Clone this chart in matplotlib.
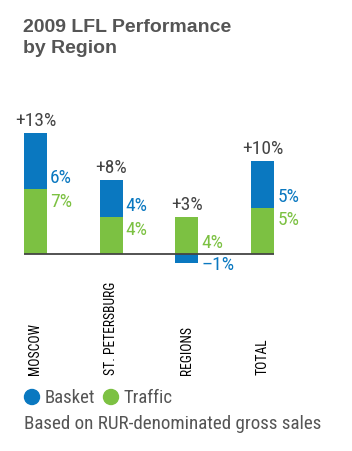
import matplotlib
matplotlib.use('Agg')
import matplotlib.pyplot as plt
from matplotlib.patches import Ellipse
import numpy as np

regions = ['MOSCOW', 'ST. PETERSBURG', 'REGIONS', 'TOTAL']
traffic = [7, 4, 4, 5]
basket = [6, 4, -1, 5]
totals = ['+13%', '+8%', '+3%', '+10%']
traffic_labels = ['7%', '4%', '4%', '5%']
basket_labels = ['6%', '4%', '\u20131%', '5%']

BLUE = '#0a78c0'
GREEN = '#7cc142'
GREY = '#555555'
NARROW = ['Roboto Condensed', 'DejaVu Sans']

W, H = 352, 452
fig = plt.figure(figsize=(W / 100, H / 100), dpi=100)

# axes covers pixel rows 100..290, full width
ax = fig.add_axes([0, 1 - 290 / H, 1, 190 / H])
x = np.arange(len(regions))
width = 0.304
px_per_unit = 9.3
ax.set_ylim(-35 / px_per_unit, 155 / px_per_unit)
ax.set_xlim(-35.5 / 75.7, (W - 35.5) / 75.7)
ax.axis('off')

basket_bottom = [t if b > 0 else 0 for t, b in zip(traffic, basket)]
ax.bar(x, traffic, width, color=GREEN, zorder=2)
ax.bar(x, basket, width, bottom=basket_bottom, color=BLUE, zorder=2)
ax.hlines(0, x[0] - width / 2, x[-1] + width / 2, color='#444444', lw=1.3, zorder=3)

dy = 0.3
for i in range(len(regions)):
    top = max(traffic[i], traffic[i] + basket[i])
    ax.text(x[i], top + 0.4, totals[i], ha='center', va='bottom',
            fontsize=14, color='#444444', family=NARROW)
    lx = x[i] + width / 2 + 0.04
    if basket[i] > 0:
        ax.text(lx, traffic[i] + dy, basket_labels[i], ha='left', va='bottom',
                fontsize=14, color=BLUE, family=NARROW)
        ax.text(lx, traffic[i] - dy, traffic_labels[i], ha='left', va='top',
                fontsize=14, color=GREEN, family=NARROW)
    else:
        ax.text(lx, dy, traffic_labels[i], ha='left', va='bottom',
                fontsize=14, color=GREEN, family=NARROW)
        ax.text(lx, -dy + 0.2, basket_labels[i], ha='left', va='top',
                fontsize=14, color=BLUE, family=NARROW)
    # category label, rotated, bottom at pixel row 375
    ax.text(x[i], -12.9, regions[i], rotation=90, ha='center', va='bottom',
            fontsize=9.8, color='black', family=NARROW, clip_on=False)

# title
fig.text(23 / W, 1 - 19 / H, '2009 LFL Performance\nby Region', ha='left', va='top',
         fontsize=14, fontweight='bold', color=GREY, family='Liberation Sans',
         linespacing=1.3)

# legend
for cx, tx, col, name in [(32, 45, BLUE, 'Basket'), (111, 124, GREEN, 'Traffic')]:
    fig.patches.append(Ellipse((cx / W, 1 - 398 / H), 15 / W, 15 / H,
                               transform=fig.transFigure, color=col))
    fig.text(tx / W, 1 - 398 / H, name, ha='left', va='center', fontsize=13.5,
             color=GREY, family=NARROW)

fig.text(24 / W, 1 - 424 / H, 'Based on RUR-denominated gross sales', ha='left',
         va='center', fontsize=13.7, color=GREY, family=NARROW)

fig.savefig('out.png', dpi=100)
